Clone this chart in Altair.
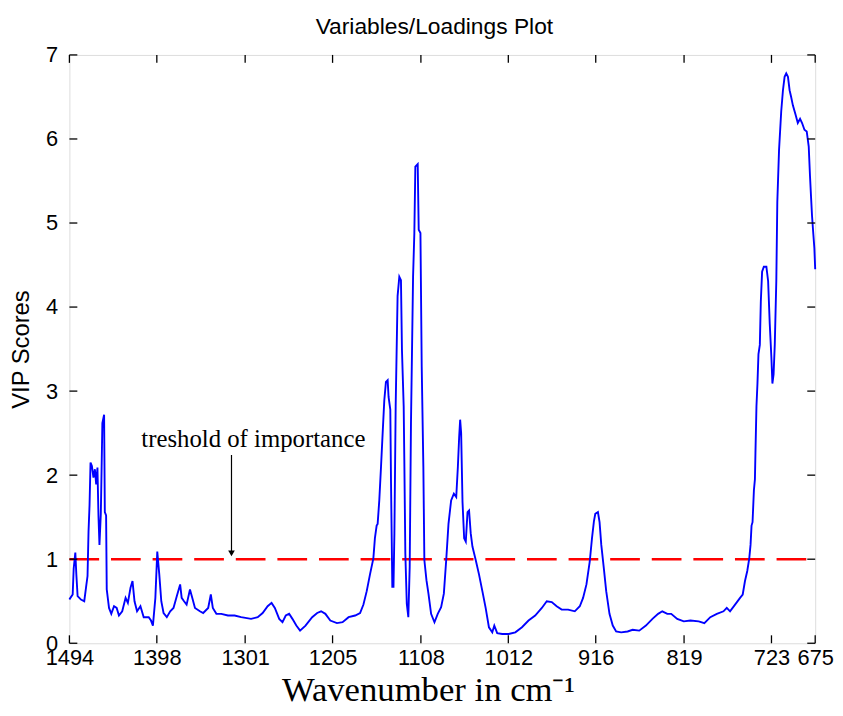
import altair as alt
import pandas as pd

# ---- data ----
wavenumber = [
    1494.0, 1492.9, 1490.4, 1489.3, 1487.5, 1486.4, 1485.0, 1483.1, 1481.3, 1477.7,
    1475.8, 1474.1, 1473.0, 1471.9, 1470.8, 1469.3, 1467.6, 1466.0, 1464.6, 1463.2,
    1462.1, 1461.0, 1459.5, 1457.8, 1455.9, 1455.1, 1453.7, 1453.0, 1450.5, 1448.0,
    1445.0, 1442.1, 1439.6, 1436.0, 1432.3, 1429.8, 1426.9, 1424.7, 1422.5, 1419.7,
    1416.0, 1412.4, 1406.9, 1404.4, 1402.3, 1399.6, 1397.5, 1395.3, 1393.1, 1390.6,
    1387.0, 1383.3, 1379.7, 1376.1, 1372.4, 1370.7, 1368.1, 1365.3, 1361.6, 1359.1,
    1356.1, 1350.7, 1347.1, 1341.6, 1338.7, 1336.5, 1332.6, 1327.2, 1319.9, 1312.6,
    1305.4, 1294.5, 1287.2, 1281.8, 1276.3, 1272.0, 1268.4, 1263.6, 1260.0, 1256.4,
    1252.7, 1249.1, 1244.8, 1240.7, 1234.7, 1227.4, 1221.9, 1217.6, 1212.9, 1207.5,
    1200.2, 1194.0, 1187.4, 1180.2, 1174.8, 1171.1, 1167.5, 1163.9, 1160.2, 1158.5,
    1156.6, 1155.5, 1153.7, 1151.8, 1150.0, 1148.2, 1146.4, 1144.5, 1143.5, 1141.6,
    1140.8, 1139.4, 1138.1, 1137.1, 1135.7, 1133.6, 1131.7, 1129.9, 1128.8, 1126.9,
    1126.2, 1125.1, 1123.5, 1121.8, 1120.3, 1118.9, 1116.6, 1115.2, 1114.1, 1111.5,
    1110.4, 1108.5, 1107.1, 1105.3, 1104.2, 1101.9, 1099.7, 1096.8, 1093.1, 1089.5,
    1085.8, 1082.8, 1080.2, 1077.7, 1074.8, 1071.8, 1069.2, 1067.4, 1066.0, 1064.9,
    1063.8, 1062.3, 1060.5, 1058.7, 1056.8, 1055.1, 1053.3, 1051.4, 1047.8, 1044.2,
    1040.5, 1036.9, 1033.3, 1029.6, 1027.4, 1024.2, 1018.7, 1011.6, 1004.3, 997.0,
    989.8, 982.5, 975.2, 969.8, 964.3, 958.9, 953.4, 946.3, 939.0, 933.5,
    929.9, 926.2, 922.6, 920.1, 918.0, 916.5, 913.6, 911.8, 909.9, 907.1,
    904.5, 900.9, 897.3, 893.6, 888.1, 881.0, 875.5, 868.2, 860.9, 853.7,
    847.5, 842.9, 837.4, 833.1, 826.5, 819.3, 812.0, 802.9, 796.7, 790.2,
    783.0, 775.7, 772.1, 768.5, 763.0, 757.5, 754.6, 752.1, 749.6, 747.4,
    746.0, 744.9, 743.8, 742.3, 741.2, 740.6, 739.5, 738.4, 737.3, 735.8,
    734.7, 733.3, 731.4, 728.6, 726.7, 724.9, 723.1, 722.0, 720.7, 719.4,
    717.7, 716.6, 714.7, 712.3, 710.4, 708.6, 706.8, 704.9, 703.1, 701.4,
    699.5, 696.6, 694.1, 691.6, 689.4, 686.8, 684.3, 682.1, 680.7, 679.6,
    678.5, 677.0, 675.9, 675.0,
]
vip = [
    0.52, 0.54, 0.58, 0.89, 1.08, 0.82, 0.56, 0.54, 0.52, 0.50,
    0.66, 0.80, 1.33, 1.64, 2.15, 2.11, 1.97, 2.07, 1.89, 2.09,
    1.52, 1.17, 1.54, 2.62, 2.72, 1.56, 1.52, 0.64, 0.42, 0.35,
    0.44, 0.42, 0.33, 0.38, 0.54, 0.48, 0.66, 0.74, 0.50, 0.38,
    0.44, 0.31, 0.31, 0.27, 0.21, 0.54, 1.09, 0.82, 0.50, 0.36,
    0.31, 0.38, 0.42, 0.56, 0.70, 0.54, 0.50, 0.46, 0.64, 0.54,
    0.42, 0.38, 0.36, 0.42, 0.58, 0.42, 0.35, 0.35, 0.33, 0.33,
    0.31, 0.29, 0.31, 0.36, 0.44, 0.48, 0.42, 0.29, 0.25, 0.33,
    0.35, 0.29, 0.21, 0.15, 0.21, 0.31, 0.36, 0.38, 0.35, 0.27,
    0.24, 0.25, 0.31, 0.33, 0.36, 0.46, 0.62, 0.82, 1.01, 1.25,
    1.40, 1.42, 1.70, 2.10, 2.50, 2.89, 3.11, 3.13, 2.93, 2.78,
    1.90, 0.67, 0.67, 1.31, 2.82, 4.13, 4.36, 4.32, 3.49, 2.82,
    2.18, 1.07, 0.47, 0.31, 0.91, 2.62, 4.36, 4.88, 5.67, 5.70,
    4.92, 4.88, 3.29, 2.10, 0.99, 0.75, 0.59, 0.35, 0.25, 0.35,
    0.43, 0.59, 0.99, 1.42, 1.70, 1.78, 1.74, 2.10, 2.45, 2.66,
    2.50, 1.68, 1.25, 1.21, 1.56, 1.58, 1.31, 1.15, 0.99, 0.82,
    0.62, 0.42, 0.19, 0.13, 0.21, 0.12, 0.11, 0.11, 0.13, 0.19,
    0.27, 0.33, 0.42, 0.50, 0.49, 0.44, 0.40, 0.40, 0.38, 0.44,
    0.54, 0.70, 0.97, 1.25, 1.45, 1.54, 1.56, 1.44, 1.17, 0.89,
    0.62, 0.35, 0.21, 0.14, 0.13, 0.14, 0.16, 0.15, 0.21, 0.29,
    0.35, 0.38, 0.35, 0.35, 0.29, 0.26, 0.27, 0.26, 0.24, 0.31,
    0.35, 0.38, 0.42, 0.38, 0.46, 0.54, 0.58, 0.74, 0.86, 1.01,
    1.17, 1.40, 1.44, 1.82, 1.95, 2.27, 2.82, 3.09, 3.44, 3.55,
    4.07, 4.42, 4.48, 4.48, 4.31, 3.80, 3.40, 3.09, 3.20, 3.55,
    4.31, 5.25, 5.87, 6.33, 6.58, 6.74, 6.78, 6.74, 6.58, 6.50,
    6.40, 6.29, 6.19, 6.24, 6.19, 6.11, 6.09, 5.91, 5.56, 5.32,
    5.09, 4.86, 4.70, 4.45,
]
x_ticks = [1494, 1398, 1301, 1205, 1108, 1012, 916, 819, 723, 675]
y_ticks = [0, 1, 2, 3, 4, 5, 6, 7]
threshold = [1.0]
annotation_text = ["treshold of importance"]
annotation_x = [1292]
annotation_y = [2.33]
arrow_x = [1316]
arrow_top = [2.24]
arrow_tip = [1.07]

W, H = 753, 594
SANS = "Liberation Sans, Arial, sans-serif"
SERIF = "Liberation Serif, Times New Roman, serif"

curve = pd.DataFrame({"w": wavenumber, "vip": vip})
xt = pd.DataFrame({"w": x_ticks})
yt = pd.DataFrame({"v": y_ticks})

xscale = alt.Scale(domain=[675, 1494], reverse=True, nice=False, zero=False)
yscale = alt.Scale(domain=[0, 7], nice=False, zero=True)

x_axis = alt.Axis(
    values=x_ticks, format="d", ticks=False, domain=False, grid=False,
    labelFont=SANS, labelFontSize=22, labelColor="black", labelPadding=4,
    labelOverlap=False, labelFlush=False,
    title="Wavenumber in cm\u207b\u00b9", titleFont=SERIF, titleFontSize=35,
    titleFontWeight="normal", titleColor="black",
    titleX=362, titleY=58, titleAlign="center", titleBaseline="alphabetic",
)
y_axis = alt.Axis(
    values=y_ticks, format="d", ticks=False, domain=False, grid=False,
    labelFont=SANS, labelFontSize=22, labelColor="black", labelPadding=12,
    title="VIP Scores", titleFont=SANS, titleFontSize=24,
    titleFontWeight="normal", titleColor="black",
    titleX=-48, titleY=H / 2, titleAngle=270, titleAlign="center", titleBaseline="middle",
)

line = alt.Chart(curve).mark_line(color="#0000ff", strokeWidth=1.9, interpolate="linear").encode(
    x=alt.X("w:Q", scale=xscale, axis=x_axis),
    y=alt.Y("vip:Q", scale=yscale, axis=y_axis),
    order=alt.Order("idx:Q"),
).transform_window(idx="row_number()")

thr = alt.Chart(pd.DataFrame({"v": threshold})).mark_rule(
    color="#ff0000", strokeWidth=2.5, strokeDash=[30, 12]
).encode(y=alt.Y("v:Q", scale=yscale), x=alt.value(0), x2=alt.value(W))

bottom_ticks = alt.Chart(xt).mark_rule(color="black", strokeWidth=1.3).encode(
    x=alt.X("w:Q", scale=xscale), y=alt.value(H), y2=alt.value(H - 8))
top_ticks = alt.Chart(xt).mark_rule(color="black", strokeWidth=1.3).encode(
    x=alt.X("w:Q", scale=xscale), y=alt.value(0), y2=alt.value(8))
left_ticks = alt.Chart(yt).mark_rule(color="black", strokeWidth=1.3).encode(
    y=alt.Y("v:Q", scale=yscale), x=alt.value(0), x2=alt.value(8))
right_ticks = alt.Chart(yt).mark_rule(color="black", strokeWidth=1.3).encode(
    y=alt.Y("v:Q", scale=yscale), x=alt.value(W), x2=alt.value(W - 8))

ann_df = pd.DataFrame({"t": annotation_text, "x": annotation_x, "y": annotation_y,
                       "ax": arrow_x, "atop": arrow_top, "atip": arrow_tip})
ann_text = alt.Chart(ann_df).mark_text(
    font=SERIF, fontSize=25, color="black", align="center", baseline="alphabetic"
).encode(x=alt.X("x:Q", scale=xscale), y=alt.Y("y:Q", scale=yscale), text="t:N")
arrow_line = alt.Chart(ann_df).mark_rule(color="black", strokeWidth=1.2).encode(
    x=alt.X("ax:Q", scale=xscale), y=alt.Y("atop:Q", scale=yscale), y2="atip:Q")
arrow_head = alt.Chart(ann_df).mark_point(
    shape="triangle-down", filled=True, color="black", size=45, opacity=1
).encode(x=alt.X("ax:Q", scale=xscale), y=alt.Y("atip:Q", scale=yscale))

chart = alt.layer(
    thr, line, bottom_ticks, top_ticks, left_ticks, right_ticks,
    arrow_line, arrow_head, ann_text,
).properties(
    width=W, height=H,
    title=alt.TitleParams("Variables/Loadings Plot", font=SANS, fontSize=23,
                          fontWeight="normal", color="black", offset=5, dx=-8),
    autosize=alt.AutoSizeParams(type="none"),
    padding={"left": 62, "top": 44, "right": 20, "bottom": 62},
).configure_view(stroke="black", strokeWidth=1.5).configure(background="white")

chart.save("out.html", embed_options={"renderer": "svg", "actions": False})
